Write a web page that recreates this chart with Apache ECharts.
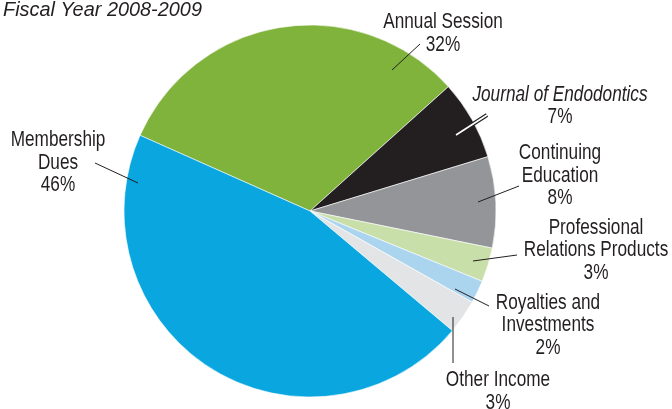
<!DOCTYPE html>
<html>
<head>
<meta charset="utf-8">
<script src="https://cdn.jsdelivr.net/npm/echarts@6/dist/echarts.min.js"></script>
<style>html,body{margin:0;padding:0;background:#fff}#c{width:672px;height:409px}</style>
</head>
<body>
<div id="c"></div>
<script>
const title = 'Fiscal Year 2008-2009';
const categories = ['Annual Session', 'Journal of Endodontics', 'Continuing Education', 'Professional Relations Products', 'Royalties and Investments', 'Other Income', 'Membership Dues'];
const labelText = ['Annual Session', 'Journal of Endodontics', 'Continuing\nEducation', 'Professional\nRelations Products', 'Royalties and\nInvestments', 'Other Income', 'Membership\nDues'];
const values = [32, 7, 8, 3, 2, 3, 46];
const colors = ['#80b33c', '#231f20', '#939598', '#c9dfaa', '#abd5ef', '#e3e4e6', '#09a6df'];

// label placement (center x, middle y) and leader line endpoints
const labelPos = [[443, 33.5], [560, 106], [560, 175.5], [596, 250], [548, 325], [498, 391.5], [58, 162.5]];
const leader = [
  [[392, 70], [420, 44]],
  [[456, 135], [487, 115]],
  [[478, 202], [519, 186]],
  [[473, 261], [517, 255]],
  [[455, 289], [489, 306]],
  [[453, 317], [453, 363]],
  [[138, 183], [95, 163]]
];

const FONT = "'Liberation Sans', Arial, sans-serif";
const TXT = '#231f20';
const LABEL_SIZE = 22.5;
const LABEL_LH = 22.5;
const SQUEEZE = 0.765;

const graphics = [];
// title
graphics.push({
  type: 'text', x: 3, y: 10, scaleX: 0.97, z: 100,
  style: {text: title, fill: TXT, font: 'italic 20.5px ' + FONT, align: 'left', verticalAlign: 'middle'}
});
// slice labels
labelText.forEach((t, i) => {
  const lines = t.split('\n').concat([values[i] + '%']);
  const n = lines.length;
  lines.forEach((ln, k) => {
    const italic = (i === 1 && k === 0) ? 'italic ' : '';
    graphics.push({
      type: 'text', z: 100,
      x: labelPos[i][0], y: labelPos[i][1] + (k - (n - 1) / 2) * LABEL_LH,
      scaleX: SQUEEZE,
      style: {text: ln, fill: TXT, font: italic + LABEL_SIZE + 'px ' + FONT, align: 'center', verticalAlign: 'middle'}
    });
  });
});
// leader lines
leader.forEach((seg, i) => {
  const sh = {x1: seg[0][0], y1: seg[0][1], x2: seg[1][0], y2: seg[1][1]};
  if (i === 1) {
    graphics.push({type: 'line', z: 100, shape: sh, style: {stroke: TXT, lineWidth: 4}});
    graphics.push({type: 'line', z: 101, shape: sh, style: {stroke: '#ffffff', lineWidth: 1.6}});
  } else {
    graphics.push({type: 'line', z: 100, shape: sh, style: {stroke: TXT, lineWidth: 1}});
  }
});

const chart = echarts.init(document.getElementById('c'), null, {renderer: 'canvas'});
chart.setOption({
  animation: false,
  graphic: graphics,
  series: [{
    type: 'pie',
    center: [310, 211],
    radius: 186,
    startAngle: 156,
    clockwise: true,
    data: categories.map((c, i) => ({name: c, value: values[i], itemStyle: {color: colors[i]}})),
    itemStyle: {borderColor: '#ffffff', borderWidth: 0.6},
    label: {show: false},
    labelLine: {show: false},
    emphasis: {disabled: true}
  }]
});
</script>
</body>
</html>
